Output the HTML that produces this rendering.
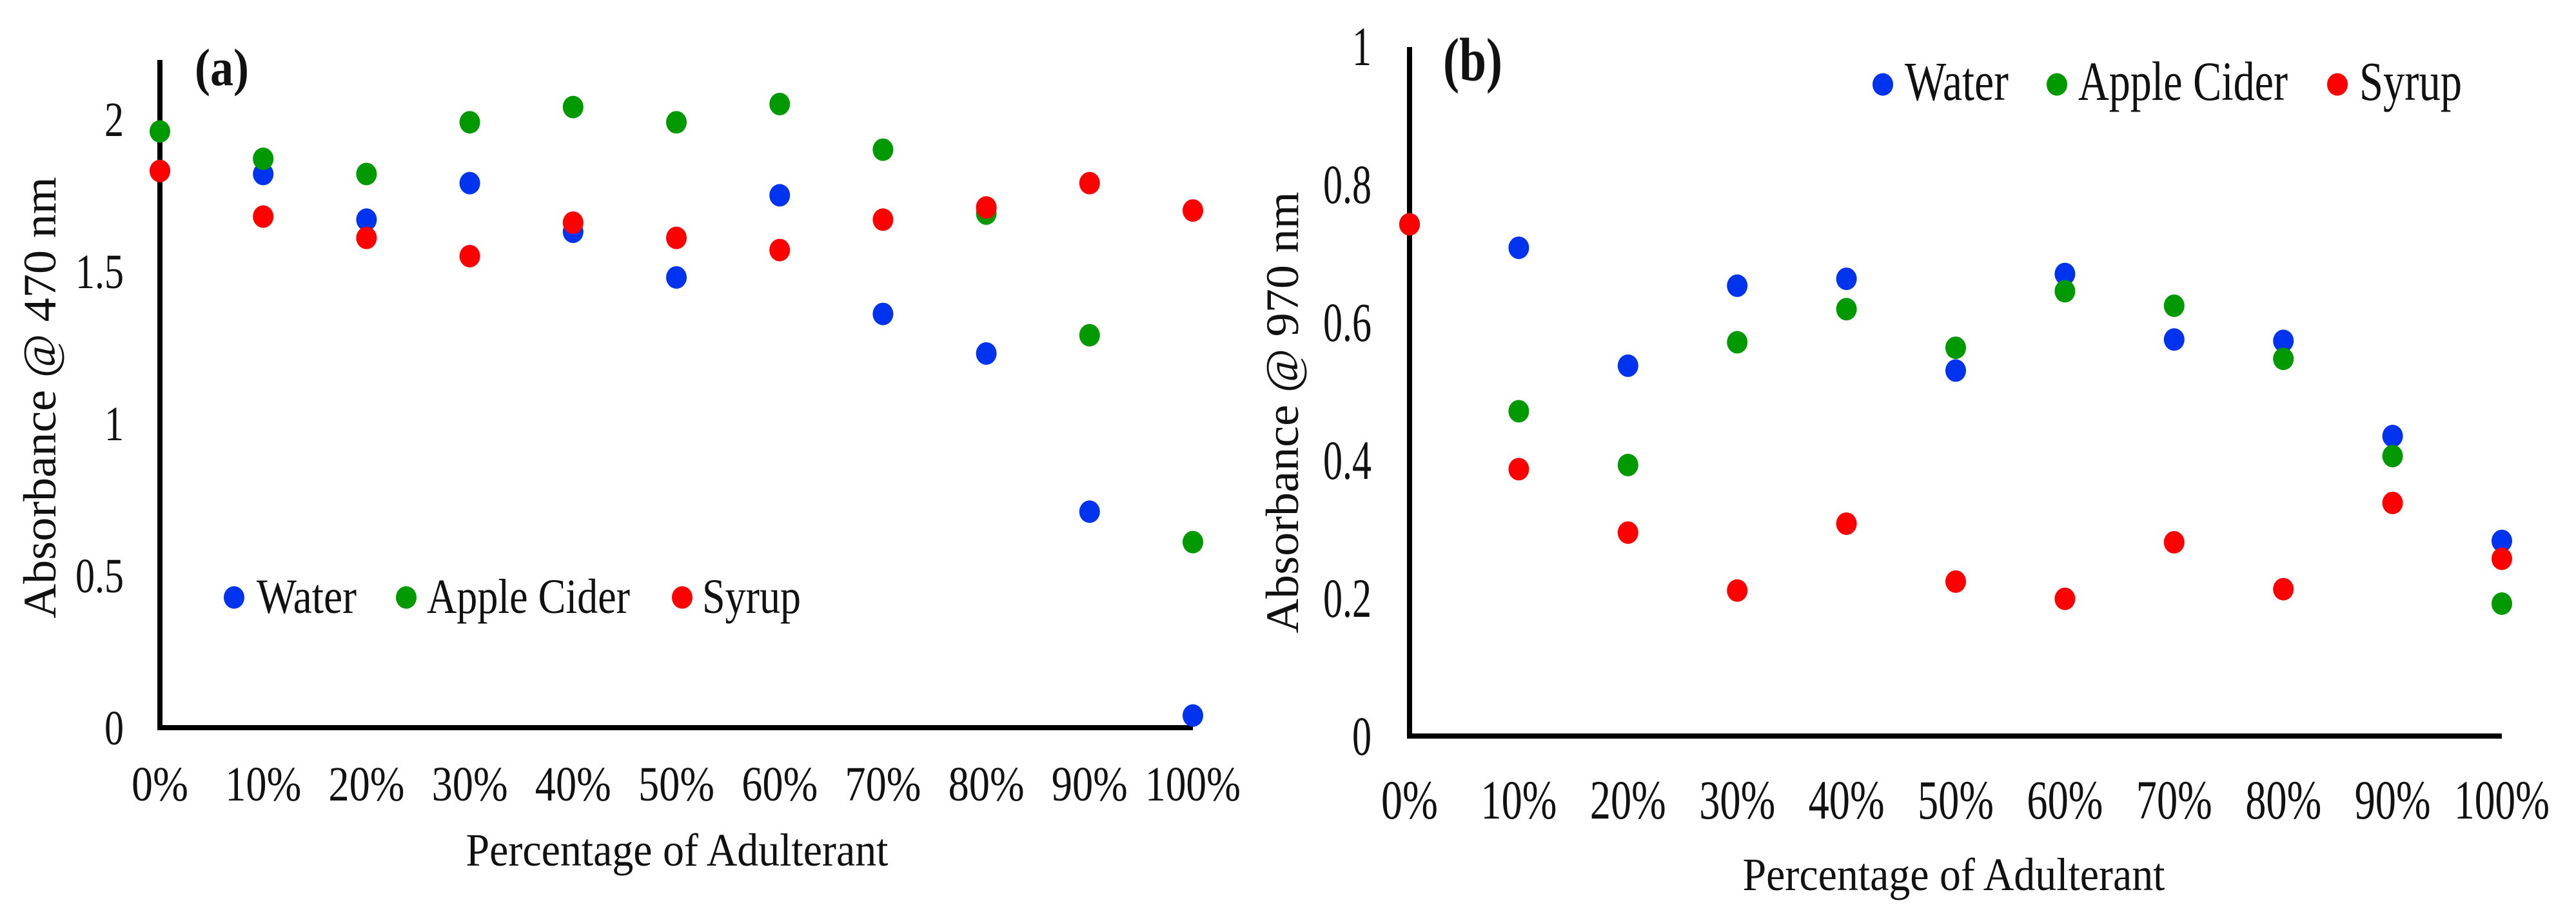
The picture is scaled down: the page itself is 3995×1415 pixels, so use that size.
<!DOCTYPE html>
<html><head><meta charset="utf-8"><style>
html,body{margin:0;padding:0;background:#fff;}
svg{display:block;font-family:"Liberation Serif",serif;}
</style></head><body>
<svg id="fig" width="3995" height="1415" viewBox="0 0 3995 1415" xmlns="http://www.w3.org/2000/svg">
<rect width="3995" height="1415" fill="#fff"/>
</svg>
<script>
const categories = ["0%","10%","20%","30%","40%","50%","60%","70%","80%","90%","100%"];
const seriesNames = ["Water","Apple Cider","Syrup"];
const seriesColors = ["#0033ee","#009900","#ff0000"];
const waterA = [1.83,1.82,1.67,1.79,1.63,1.48,1.75,1.36,1.23,0.71,0.04];
const appleA = [1.96,1.87,1.82,1.99,2.04,1.99,2.05,1.90,1.69,1.29,0.61];
const syrupA = [1.83,1.68,1.61,1.55,1.66,1.61,1.57,1.67,1.71,1.79,1.70];
const waterB = [0.742,0.708,0.537,0.653,0.663,0.530,0.670,0.575,0.573,0.435,0.283];
const appleB = [0.742,0.471,0.393,0.571,0.619,0.563,0.645,0.624,0.547,0.406,0.192];
const syrupB = [0.742,0.387,0.295,0.211,0.308,0.224,0.199,0.281,0.213,0.338,0.257];
const ticksA = [0,0.5,1,1.5,2];
const tickLabelsA = ["0","0.5","1","1.5","2"];
const ticksB = [0,0.2,0.4,0.6,0.8,1];
const tickLabelsB = ["0","0.2","0.4","0.6","0.8","1"];

const NS = "http://www.w3.org/2000/svg";
const svg = document.getElementById("fig");
function mk(tag, attrs, parent){
  const e = document.createElementNS(NS, tag);
  for (const k in attrs) e.setAttribute(k, attrs[k]);
  (parent||svg).appendChild(e);
  return e;
}
function txtW(s, dw){ let w=0; for(const c of s){ w += (c==='%')?58:(c==='.')?15:dw; } return w; }

function drawChart(cfg){
  const g = mk("g", {});
  
  
  const xs = i => cfg.x0 + (cfg.x1 - cfg.x0) * i / (categories.length - 1);
  const ys = v => cfg.yBase - (cfg.yBase - cfg.yTop) * (v / cfg.yMax);
  // axes
  const ya = mk("line", {x1:cfg.x0, y1:cfg.axisTop, x2:cfg.x0, y2:cfg.yBase+4, stroke:"#000","stroke-width":8}, g);
  
  
  const xa = mk("line", {x1:cfg.x0-4, y1:cfg.yBase, x2:cfg.x1, y2:cfg.yBase, stroke:"#000","stroke-width":8}, g);
  
  
  // y ticks
  cfg.ticks.forEach((t, i) => {
    const lab = cfg.tickLabels[i];
    const e = mk("text", {x:cfg.yLabX, y:ys(t)+cfg.fs*0.34, "text-anchor":"end", "font-size":cfg.fs, fill:"#111", textLength:txtW(lab,30), lengthAdjust:"spacingAndGlyphs"}, g);
    e.textContent = lab;
    
    
  });
  // x ticks
  categories.forEach((c, i) => {
    const e = mk("text", {x:xs(i), y:cfg.xLabY, "text-anchor":"middle", "font-size":cfg.fs, fill:"#111", textLength:txtW(c,30), lengthAdjust:"spacingAndGlyphs"}, g);
    e.textContent = c;
    
    
  });
  // titles
  const xt = mk("text", {x:cfg.xTitleX, y:cfg.xTitleY, "text-anchor":"middle", "font-size":72, fill:"#111", textLength:655, lengthAdjust:"spacingAndGlyphs"}, g);
  xt.textContent = "Percentage of Adulterant";
  
  
  const yt = mk("text", {x:0, y:0, transform:`translate(${cfg.yTitleX},${cfg.yTitleY}) rotate(-90)`, "text-anchor":"middle", "font-size":72, fill:"#111", textLength:685, lengthAdjust:"spacingAndGlyphs"}, g);
  yt.textContent = cfg.yTitle;
  
  
  const pl = mk("text", {x:cfg.panelX, y:cfg.panelY, "font-size":cfg.panelFs, "font-weight":"bold", fill:"#111", textLength:cfg.panelW, lengthAdjust:"spacingAndGlyphs"}, g);
  pl.textContent = cfg.panel;
  
  
  // points
  cfg.series.forEach((arr, s) => {
    arr.forEach((v, i) => {
      const p = mk("ellipse", {cx:xs(i), cy:ys(v), rx:16, ry:17.5, fill:seriesColors[s]}, g);
      
      
    });
  });
  // legend
  cfg.legend.forEach((L, s) => {
    const lg = mk("g", {}, g);
    
    
    mk("ellipse", {cx:L.dx, cy:cfg.legY, rx:16, ry:17.5, fill:seriesColors[s]}, lg);
    const t = mk("text", {x:L.tx, y:cfg.legY+24, "font-size":cfg.fs, fill:"#111", textLength:L.w, lengthAdjust:"spacingAndGlyphs"}, lg);
    t.textContent = seriesNames[s];
  });
}

drawChart({
  name:"chart-a", x0:248, x1:1850, yBase:1129, yTop:185, yMax:2, axisTop:93,
  ticks:ticksA, tickLabels:tickLabelsA, yLabX:192, xLabY:1242, fs:76,
  xTitleX:1050, xTitleY:1343, yTitleX:86, yTitleY:617, yTitle:"Absorbance @ 470 nm",
  panel:"(a)", panelX:302, panelY:132, panelFs:82, panelW:84,
  series:[waterA, appleA, syrupA], legY:927,
  legend:[{dx:363,tx:398,w:155},{dx:630,tx:662,w:315},{dx:1058,tx:1089,w:153}]
});
drawChart({
  name:"chart-b", x0:2186, x1:3880, yBase:1142, yTop:72, yMax:1, axisTop:73,
  ticks:ticksB, tickLabels:tickLabelsB, yLabX:2127, xLabY:1270, fs:86,
  xTitleX:3030, xTitleY:1381, yTitleX:2013, yTitleY:640, yTitle:"Absorbance @ 970 nm",
  panel:"(b)", panelX:2238, panelY:125, panelFs:95, panelW:92,
  series:[waterB, appleB, syrupB], legY:131,
  legend:[{dx:2920,tx:2954,w:161},{dx:3190,tx:3223,w:325},{dx:3625,tx:3659,w:159}]
});
</script>
</body></html>
